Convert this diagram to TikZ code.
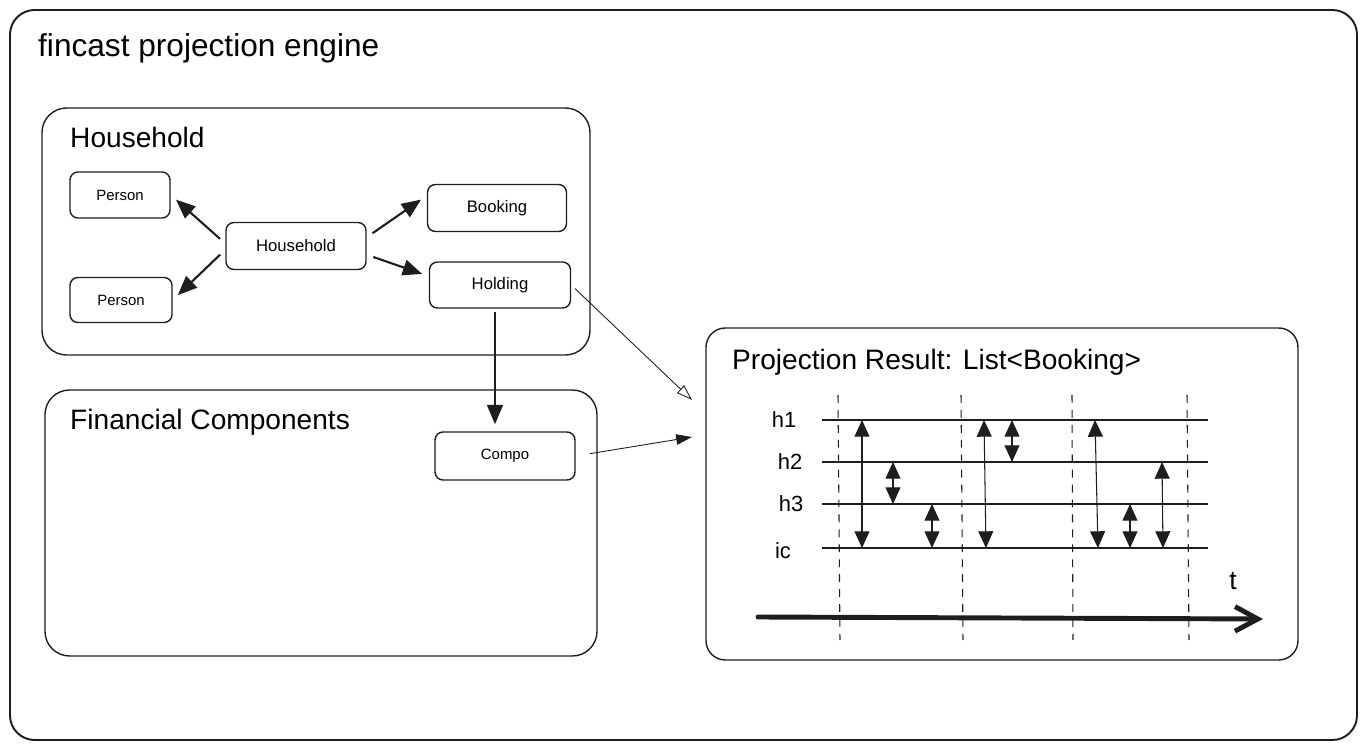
\documentclass[tikz,border=0pt]{standalone}
\usepackage{fontspec}
\setmainfont{Liberation Sans}
\usetikzlibrary{arrows.meta}
\definecolor{ink}{RGB}{30, 30, 30}

\begin{document}
\begin{tikzpicture}[x=0.02cm, y=-0.02cm, line join=round,
    box/.style={draw=ink, thick, rounded corners=4.5pt, minimum height=0.94cm, minimum width=2.8cm, font=\fontsize{9.5}{11}\selectfont},
    sbox/.style={box, font=\fontsize{8.5}{10}\selectfont},
    grp/.style={draw=ink, thick, rounded corners=14pt},
    lbl/.style={anchor=west, font=\fontsize{16}{19}\selectfont},
    hl/.style={font=\fontsize{12.5}{14}\selectfont},
    arr/.style={draw=ink, line width=1.2pt, -{Triangle[length=11pt,width=9pt]}, shorten <=4pt, shorten >=4pt},
    feed/.style={draw=ink, line width=0.5pt, -{Triangle[length=9pt,width=6pt]}, shorten <=3pt},
    dbl/.style={draw=ink, line width=0.6pt, {Triangle[length=9.5pt,width=8.5pt]}-{Triangle[length=9.5pt,width=8.5pt]}},
    lane/.style={draw=ink, line width=0.7pt},
    vsep/.style={draw=ink, line width=0.6pt, dash pattern=on 4.5pt off 4pt}]
      \useasboundingbox (0,0) rectangle (1367,749);
      \draw[grp, line width=1.1pt] (10,10) rectangle (1357,740);
      \node[anchor=west, font=\fontsize{18}{21}\selectfont] (tt) at (32,48) {fincast projection engine};
      \draw[grp] (42,108) rectangle (590,355);
      \node[lbl] (lh) at (64,137) {Household};
      \node[sbox, minimum width=2cm, minimum height=0.92cm] (p1) at (120,195) {Person};
      \node[sbox, minimum width=2.04cm, minimum height=0.9cm] (p2) at (121,300) {Person};
      \node[box] (hh) at (296,246) {Household};
      \node[box, minimum width=2.78cm] (bk) at (497,208) {Booking};
      \node[box, minimum width=2.82cm, minimum height=0.92cm] (hd) at (500,285) {Holding};
      \draw[arr] (hh.178) -- (p1.east);
      \draw[arr] (hh.183) -- (p2.east);
      \draw[arr] (hh.7) -- (bk.170);
      \draw[arr] (hh.-7) -- (hd.173);
      \draw[grp] (45,390) rectangle (597,656);
      \node[lbl] (lf) at (64,422) {Financial Components};
      \node[sbox, minimum height=0.96cm] (cp) at (505,456) {Compo};
      \draw[arr, shorten <=2pt] ([xshift=-0.1cm]hd.south) -- ([xshift=-0.1cm]hd.south |- cp.north);
      \draw[grp, rounded corners=11pt] (706,328) rectangle (1298,660);
      \node[lbl] (lp) at (726,362) {Projection Result: List<Booking>};
      \coordinate (r1) at (692,400);
      \coordinate (r2) at (692,437);
      \draw[feed, -{Triangle[open,length=9pt,width=6pt]}] (hd.east) -- (r1);
      \draw[feed, shorten <=8pt] (cp.east) -- (r2);
      \coordinate (a1) at (822,420);
      \coordinate (b1) at (1208,420);
      \coordinate (a2) at (822,462);
      \coordinate (b2) at (1208,462);
      \coordinate (a3) at (822,504);
      \coordinate (b3) at (1208,504);
      \coordinate (a4) at (822,548);
      \coordinate (b4) at (1208,548);
      \draw[lane] (a1) -- (b1);
      \draw[lane] (a2) -- (b2);
      \draw[lane] (a3) -- (b3);
      \draw[lane] (a4) -- (b4);
      \node[hl] (n1) at (784,420) {h1};
      \node[hl] (n2) at (790,462) {h2};
      \node[hl] (n3) at (791,504) {h3};
      \node[hl] (n4) at (783,551) {ic};
      \draw[vsep] (838,395) -- (840,640);
      \draw[vsep] (961,395) -- (963,640);
      \draw[vsep] (1072,395) -- (1073,640);
      \draw[vsep] (1187,395) -- (1189,640);
      \draw[dbl] (862,0 |- a1) -- (862,0 |- a4);
      \draw[dbl] (893,0 |- a2) -- (893,0 |- a3);
      \draw[dbl] (932,0 |- a3) -- (932,0 |- a4);
      \draw[dbl] (984,0 |- a1) -- (986,0 |- a4);
      \draw[dbl] (1012,0 |- a1) -- (1012,0 |- a2);
      \draw[dbl] (1095,0 |- a1) -- (1098,0 |- a4);
      \draw[dbl] (1130,0 |- a3) -- (1130,0 |- a4);
      \draw[dbl] (1162,0 |- a2) -- (1163,0 |- a4);
      \coordinate (t0) at (758,617);
      \coordinate (t1) at (1263,619);
      \draw[ink, line width=2.8pt, line cap=round, -{Straight Barb[length=13pt,width=14pt]}] (t0) -- (t1);
      \node[font=\fontsize{15}{17}\selectfont] (tl) at (1233,581) {t};
\end{tikzpicture}
\end{document}
